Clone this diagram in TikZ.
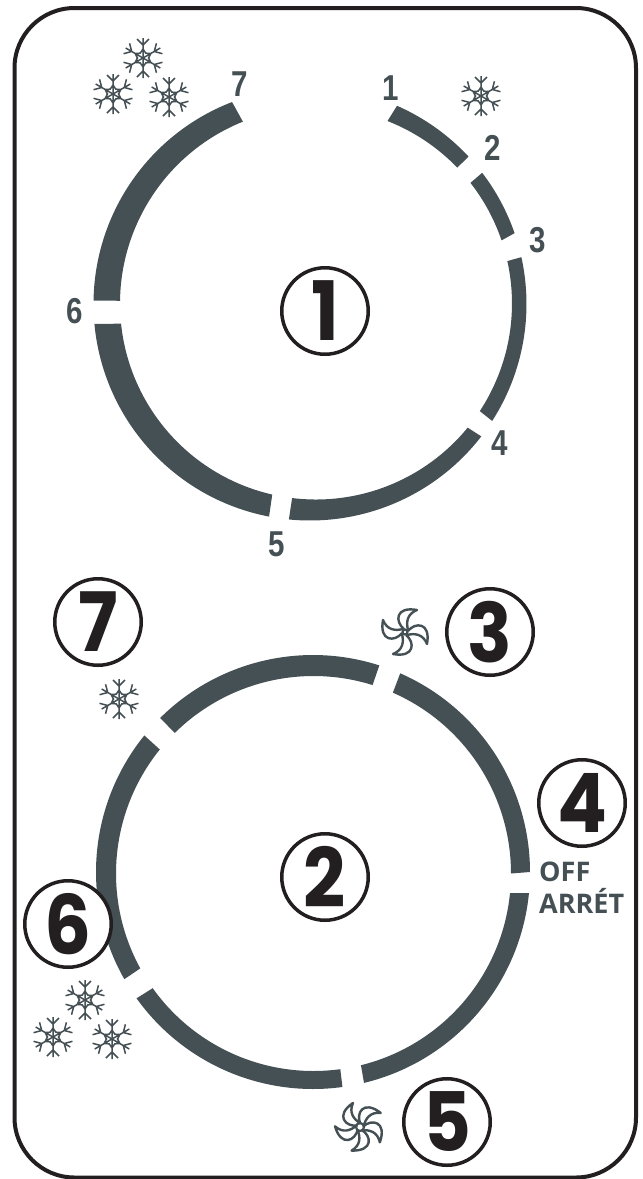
\documentclass[tikz,border=0pt]{standalone}
\usepackage{fontspec}
\usepackage{xcolor}
\usetikzlibrary{positioning,calc}
\newfontfamily\bignum[FakeStretch=0.9]{Poppins}
\newfontfamily\smallnum[FakeStretch=0.82]{Liberation Sans}
\newfontfamily\offfont{Open Sans}
\definecolor{ringgray}{RGB}{69,80,85}
\definecolor{inkblack}{RGB}{35,31,32}
% one ring piece: centre and radius of outer, then of inner circle, then the angles
\newcommand{\ringpiece}[8]{%
  \fill[ringgray] (#1)+(#3:#2) arc[start angle=#3, end angle=#4, radius=#2]
    -- ($(#5)+(#8:#6)$) arc[start angle=#8, end angle=#7, radius=#6] -- cycle;}
\begin{document}
\begin{tikzpicture}[
    x=1pt, y=1pt,
    bignode/.style={circle, draw=inkblack, fill=white, line width=3.5pt, minimum size=86.5pt,
        inner sep=0pt, text=inkblack, font=\bignum\bfseries\fontsize{82}{82}\selectfont},
    tick/.style={text=ringgray, inner sep=0pt, font=\smallnum\bfseries\fontsize{36}{36}\selectfont},
    fanhub/.style={circle, draw=ringgray, line width=2.2pt, inner sep=0pt},
    fanblade/.pic={\draw[ringgray, line width=2.4pt, line join=round]
        (-1,3) .. controls (-10,10) and (-10,26) .. (12,22) .. controls (2,18) and (1,10) .. (3,2);},
    flake/.pic={
        \foreach \a in {0,60,...,300}
            \draw[ringgray, line width=1.5pt, rotate=\a]
                (0,0) -- (0,20) (-6,19) -- (0,13) -- (6,19) (-3,4.5) -- (0,9) -- (3,4.5);}
]
\useasboundingbox (0,0) rectangle (643,-1179);
\draw[inkblack, line width=4pt, rounded corners=60pt] (14.5,-8) rectangle (636,-1177.5);

% upper ring
\coordinate (oa) at (310,-304);
\coordinate (ia) at (316,-303.5);
\ringpiece{oa}{216.5}{66.3}{42.9}{ia}{196}{68.6}{43.9}
\ringpiece{oa}{216.5}{37.3}{19.1}{ia}{196}{38.0}{18.8}
\ringpiece{oa}{216.5}{12.5}{-32.7}{ia}{196}{12.5}{-33.3}
\ringpiece{oa}{216.5}{-37.7}{-95.6}{ia}{196}{-39.3}{-97.0}
\ringpiece{oa}{216.5}{-100.9}{-174.7}{ia}{196}{-102.9}{-174.1}
\ringpiece{oa}{216.5}{179.1}{111.1}{ia}{196}{179.2}{111.9}

% lower ring
\coordinate (ob) at (313,-872);
\coordinate (ib) at (313.5,-873.5);
\ringpiece{ob}{217}{134.8}{72.2}{ib}{197.5}{134.6}{72.6}
\ringpiece{ob}{217}{66.3}{0}{ib}{197.5}{66.3}{0}
\ringpiece{ob}{217}{-5.6}{-76.4}{ib}{197.5}{-5.7}{-76.1}
\ringpiece{ob}{217}{-82.2}{-144.4}{ib}{197.5}{-82.2}{-144.5}
\ringpiece{ob}{217}{-150.4}{-219}{ib}{197.5}{-151.3}{-218.9}

\node[tick] (t1) at (391,-88) {1};
\node[tick] (t2) at (493,-148) {2};
\node[tick] (t3) at (538,-240) {3};
\node[tick] (t4) at (500,-443) {4};
\node[tick] (t5) at (277,-544) {5};
\node[tick] (t6) at (75,-311) {6};
\node[tick] (t7) at (240,-84) {7};

\node[bignode] (c1) at (325,-311) {1};
\node[bignode] (c2) at (325,-877) {2};
\node[bignode] (c3) at (490,-632) {3};
\node[bignode] (c4) at (582,-803) {4};
\node[bignode] (c5) at (447,-1122) {5};
\node[bignode] (c6) at (68,-924) {6};
\node[bignode] (c7) at (98,-622) {7};

\node[text=ringgray, align=left, inner sep=0pt, anchor=west,
    font=\offfont\bfseries\fontsize{27}{32}\selectfont] (off) at (539,-888) {OFF\\ARRÉT};

\foreach \fx/\fy in {143/58,113/94,169/97,481/96,119/699,85/1000,53/1037,112/1039}
    \pic at (\fx,-\fy) {flake};

% fans
\foreach \a in {0,-90,-180,-270}
    \pic[rotate=\a] at (405,-632) {fanblade};
\node[fanhub, minimum size=5pt] (hubfour) at (405,-632) {};
\foreach \a in {45,-27,-99,-171,-243}
    \pic[rotate=\a] at (360,-1127) {fanblade};
\node[fanhub, minimum size=8pt] (hubfive) at (360,-1127) {};
\end{tikzpicture}
\end{document}
